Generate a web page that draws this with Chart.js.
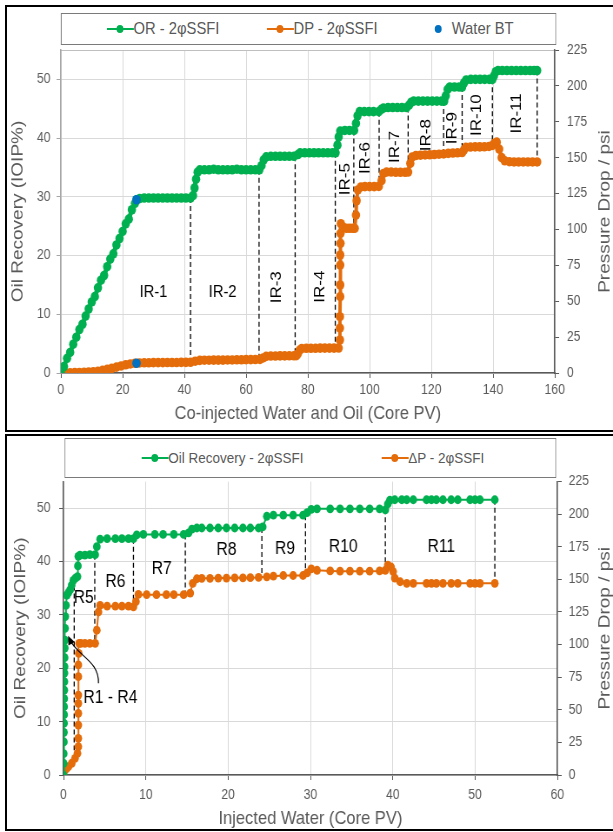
<!DOCTYPE html>
<html>
<head>
<meta charset="utf-8">
<script src="https://cdn.jsdelivr.net/npm/chart.js@4.4.0/dist/chart.umd.min.js"></script>
<style>
  html, body { margin: 0; padding: 0; background: #fff; }
  body { width: 613px; height: 832px; position: relative; overflow: hidden; font-family: 'Liberation Sans', Arial, sans-serif; }
  .frame { position: absolute; border: 2px solid #000; box-sizing: border-box; }
  #wrap { position: absolute; left: 0; top: 0; width: 705px; height: 832px; transform: scaleX(0.8695); transform-origin: 0 0; }
  #wrap canvas { position: absolute; left: 0; }
  .legend { position: absolute; border: 1.5px solid #7a7a7a; box-sizing: border-box; background: #fff; }
  .item { position: absolute; top: 0; bottom: 0; display: flex; align-items: center; color: #595959; white-space: nowrap; }
  .mk { position: relative; width: 31px; height: 10px; flex: none; }
  .mk::before { content: ''; position: absolute; left: 0; right: 0; top: 4px; height: 2px; background: var(--c); }
  .mk::after { content: ''; position: absolute; left: 11.5px; top: 1px; width: 8px; height: 8px; border-radius: 50%; background: var(--c); }
  .mk.dot::before { display: none; }
</style>
</head>
<body>
<div id="wrap">
  <canvas id="topChart" width="705" height="432" style="top:0"></canvas>
  <canvas id="bottomChart" width="705" height="396" style="top:436px"></canvas>

  <div class="legend" style="left:69.5px; top:12.7px; width:570px; height:32.3px; font-size:17px">
    <div class="item" style="left:52px"><span class="mk" style="--c:#00b050"></span>OR - 2φSSFI</div>
    <div class="item" style="left:236px"><span class="mk" style="--c:#e46c0a"></span>DP - 2φSSFI</div>
    <div class="item" style="left:418px"><span class="mk dot" style="--c:#0070c0"></span>Water BT</div>
  </div>

  <div class="legend" style="left:74px; top:438.3px; width:566px; height:40px; font-size:15.5px">
    <div class="item" style="left:87.5px"><span class="mk" style="--c:#00b050"></span>Oil Recovery - 2φSSFI</div>
    <div class="item" style="left:363.5px"><span class="mk" style="--c:#e46c0a"></span>ΔP - 2φSSFI</div>
  </div>
</div>
<div class="frame" style="left:5px; top:5px; width:640px; height:427px"></div>
<div class="frame" style="left:5px; top:434px; width:640px; height:397px"></div>

<script>
// ---- top chart: co-injection (IR-1 .. IR-11) ----
const topOR = [[0,0],[1,1.1],[2,2.5],[3,3.5],[4,4.9],[5,6.1],[6,7.4],[7,8.3],[8,9.7],[9,10.9],[10,12.1],[11,13.0],[12,14.5],[13,15.8],[14,16.6],[15,18.1],[16,19.4],[17,20.3],[18,21.8],[19,22.9],[20,24.1],[21,25.4],[22,26.2],[23,27.8],[24,28.9],[24.5,29.5],
  [25.5,29.7],[27,29.8],[28.5,29.8],[30,29.8],[31.5,29.8],[33,29.8],[34.5,29.8],[36,29.8],[37.5,29.8],[39,29.8],[40.5,29.8],[42,29.8],
  [42.8,30.2],[43.3,31.5],[43.8,33],[44.3,34.2],[45,34.6],
  [46.5,34.6],[48,34.6],[49.5,34.7],[51,34.6],[52.5,34.6],[54,34.6],[55.5,34.6],[57,34.7],[58.5,34.6],[60,34.6],[61.5,34.6],[63,34.6],[64.3,34.6],
  [65,35.3],[65.7,36.3],[66.5,36.8],
  [68,36.9],[69.5,36.9],[71,36.9],[72.5,36.9],[74,36.9],[75.5,36.9],
  [76.8,37.2],[77.5,37.5],
  [79,37.5],[80.5,37.5],[82,37.5],[83.5,37.5],[85,37.5],[86.5,37.5],[88,37.5],[89,37.5],
  [89.6,38.8],[90,40.2],[90.5,41.2],
  [92,41.3],[93.5,41.3],[95,41.3],
  [95.6,42.5],[96.1,43.8],[96.8,44.5],
  [98.3,44.5],[99.8,44.5],[101.3,44.5],[103,44.5],
  [103.8,44.9],[104.5,45.1],
  [106,45.2],[107.5,45.2],[109,45.2],[110.5,45.2],[112,45.2],
  [112.8,45.6],[113.5,46.1],[114.3,46.3],
  [115.8,46.3],[117.3,46.3],[118.8,46.3],[120.3,46.3],[121.8,46.3],[123.3,46.3],[124.2,46.3],
  [124.7,47.2],[125.3,48.3],[126,48.7],
  [127.5,48.7],[129,48.7],[130,48.7],
  [130.6,49.4],[131.3,49.9],
  [132.8,50],[134.3,50],[135.8,50],[137.3,50],[138.8,50],[139.8,50],
  [140.3,50.6],[140.9,51.3],[141.6,51.5],
  [143,51.5],[144.5,51.5],[146,51.5],[147.5,51.5],[149,51.5],[150.5,51.5],[152,51.5],[153.3,51.5],[154.3,51.5]];

const topDP = [[0,0],[1.5,0.1],[3,0.2],[4.5,0.3],[6,0.4],[7.5,0.5],[9,0.7],[10.5,0.9],[12,1.2],[13.5,1.8],[15,2.5],[16.5,3.3],[18,4.1],[19.5,4.9],[21,5.7],[22.5,6.3],[24,6.8],
  [25.5,7],[27,7.1],[28.5,7.1],[30,7.2],[31.5,7.2],[33,7.2],[34.5,7.3],[36,7.3],[37.5,7.3],[39,7.4],[40.5,7.4],[42,7.5],
  [43.5,8.2],[45,8.8],
  [46.5,8.9],[48,8.9],[49.5,9],[51,9],[52.5,9],[54,9.1],[55.5,9.1],[57,9.2],[58.5,9.2],[60,9.3],[61.5,9.3],[63,9.4],[64.5,9.5],
  [65.5,10.5],[66.5,11.6],
  [68,11.8],[69.5,11.8],[71,11.9],[72.5,11.9],[74,12],[75.5,12],[76.3,12.1],
  [76.8,13.5],[77.3,15.8],[78,17],
  [79.5,17.2],[81,17.2],[82.5,17.2],[84,17.3],[85.5,17.3],[87,17.3],[88.5,17.3],[90,17.4],
  [90.4,23],[90.4,31.3],[90.4,39.2],[90.5,53.2],[90.5,61.3],[90.5,75.2],[90.5,82.2],[90.6,90.3],[90.6,97.3],[90.7,104],
  [91.5,101.5],[92.5,100.8],[93.5,100.8],[94.5,100.8],[95.2,100.8],
  [95.6,110],[95.8,120],[96.2,127.5],[97.2,129.6],
  [98.5,129.8],[100,129.8],[101.5,129.8],[103,130],
  [103.9,134],[104.5,139],[105.5,140],
  [107,140],[108.5,139.8],[110,139.8],[111.5,139.8],[112.5,140],
  [113.2,146],[113.8,150.5],
  [115,151.5],[116.5,151.7],[118,151.9],[119.5,152],[121,152.2],[122.5,152.4],[124,152.6],
  [125.5,153],[127,153.2],[128.5,153.4],[130,153.6],
  [130.6,155.5],[131.2,157.2],
  [132.7,157.4],[134.2,157.5],[135.7,157.5],[137.2,157.6],[138.7,157.8],[139.8,158.5],
  [140.4,160],[141.2,160.8],[142,156],[142.8,150],[143.8,147.8],
  [145.3,147.2],[146.8,147],[148.3,147],[149.8,147],[151.3,147],[152.8,147],[154.3,147]];

// water breakthrough
const btPV = [24.5];
const btOR = [29.5];
const btDP = [6.8];

// region boundaries (dashed lines): from OR curve down to DP curve
const irX = [42, 64.2, 75.9, 88.9, 94.9, 103.1, 112.5, 124, 130, 139.8, 154.3];
const irTopOR = [29.8, 34.6, 36.9, 37.5, 41.3, 44.5, 45.2, 46.3, 48.7, 50, 51.5];
const irBotDP = [7.5, 9.5, 12.1, 17.4, 100.8, 130, 140, 152.6, 153.6, 158.5, 147];
const irNames = ['IR-1','IR-2','IR-3','IR-4','IR-5','IR-6','IR-7','IR-8','IR-9','IR-10','IR-11'];
const irLabelX = [30, 52.4, 70, 83.9, 92.2, 98.8, 108.2, 118.4, 126.9, 134.6, 147.6];
const irLabelY = [13.8, 13.8, 14.6, 14.7, 33, 36.6, 38.5, 40.5, 41.7, 43.9, 44.2];
const irLabelTurn = [0, 0, 1, 1, 1, 1, 1, 1, 1, 1, 1];

// ---- bottom chart: sequential injection (R1 .. R11) ----
const botOR = [[0,0],[0.02,2.2],[0.03,4],[0.05,6.2],[0.06,8],[0.07,9.7],[0.08,11.3],[0.08,12.8],[0.09,14.3],[0.1,15.9],[0.11,17.5],[0.12,19.1],[0.13,20.3],[0.14,22],[0.16,23.8],[0.17,25.3],[0.19,27.5],[0.22,29.7],[0.3,31.8],[0.41,33.7],[0.6,34.2],[0.8,34.7],[1,35.6],[1.2,36.5],[1.45,36.9],[1.7,37.2],
  [1.75,39.2],[1.8,41],[2,41.2],[2.6,41.2],[3.2,41.3],[3.85,41.3],[4.05,42.8],[4.45,44.2],[5.3,44.3],[6.3,44.3],[7.1,44.3],[7.9,44.3],[8.5,44.3],
  [8.9,45],[9.7,45.1],[11.1,45.1],[12.1,45.1],[13.4,45.1],[14.6,45.1],[15.2,45.4],[15.6,46.1],[16.2,46.3],[16.8,46.3],[17.8,46.3],[18.8,46.3],[19.8,46.3],[20.8,46.3],[21.8,46.3],[22.7,46.3],[23.7,46.3],
  [24.2,46.5],[24.7,48.5],[25.5,48.7],[26.7,48.7],[27.9,48.7],[29.1,48.7],[29.6,49.2],[30.1,49.8],[30.8,49.9],[32.4,49.9],[33.6,49.9],[34.8,49.9],[36,49.9],[37.2,49.9],[38.4,49.9],[39.1,49.7],
  [39.4,50.8],[39.65,51.5],[40.25,51.6],[41.1,51.6],[41.7,51.6],[42.5,51.6],[44.1,51.6],[44.7,51.6],[45.3,51.6],[46.1,51.6],[47.1,51.6],[47.9,51.6],[49.4,51.6],[50,51.6],[50.6,51.6],[52.4,51.6]];

const botDP = [[0,0],[0.2,3.8],[0.4,5.2],[0.6,6.4],[1,9],[1.4,12.8],[1.7,16.6],[1.8,21.7],[1.8,28.1],[1.8,38.3],[1.8,47.3],[1.8,55],[1.8,61.3],[1.8,75.4],[1.8,84.4],[1.85,93.3],[1.9,101],
  [2.1,101],[2.6,101],[3.2,101],[3.85,101],[4.05,111],[4.25,125],[4.45,130],[5.3,129.5],[6.3,129.5],[7.1,129.5],[7.9,129.5],[8.5,129],
  [8.8,133],[9.1,138.5],[10.1,138.3],[11.3,138.3],[12.5,138.3],[13.4,138.3],[14.6,138.3],[15.4,139.5],[15.7,147],[16.2,150.5],[16.8,150.8],[17.8,150.8],[18.8,151],[19.8,151],[20.8,151.2],[21.8,151.2],[22.7,151.3],[23.7,151.5],
  [24.7,152],[25.5,152.5],[26.7,153],[27.9,153],[29.1,153],[29.6,155],[30.1,158],[30.8,157],[32.4,156.5],[33.6,156.3],[34.8,156.3],[36,156.3],[37.2,156.3],[38.4,156.5],[39.1,157],
  [39.4,161],[39.8,159.5],[40.05,156],[40.25,151],[40.9,148.2],[41.7,147],[42.5,147],[44.1,147],[44.7,147],[45.3,147],[46.1,147],[47.1,147],[47.9,147],[49.4,147],[50,147],[50.6,147],[52.4,147]];

const rX = [1.3, 3.8, 8.5, 14.8, 24.1, 29.4, 39.1, 52.4];
const rTopOR = [37, 41.3, 44.3, 45.1, 46.3, 48.7, 49.8, 51.6];
const rBotDP = [19, 101, 129.5, 138.3, 151.5, 153, 157, 147];
const rNames = ['R5', 'R6', 'R7', 'R8', 'R9', 'R10', 'R11', 'R1 - R4'];
const rLabelX = [2.45, 6.3, 11.95, 19.8, 26.9, 34, 45.9, 5.7];
const rLabelY = [33.1, 36.2, 38.6, 42.2, 42.3, 42.8, 42.8, 14.4];
// curved pointer from the "R1 - R4" label to the early points (PV, OR)
const rArrow = [[4.25, 17.2], [4.35, 21.5], [1.6, 22.3], [0.7, 25.6]];

const GREEN = '#00b050', ORANGE = '#e46c0a', BLUE = '#0070c0';
const GRID = '#d9d9d9', AXIS = '#595959', TEXT = '#595959';
Chart.defaults.font.family = "'Liberation Sans', Arial, sans-serif";

const toXY = arr => arr.map(p => ({ x: p[0], y: p[1] }));

// dashed region lines, region labels, arrow and the right axis title
function notes(cfg) {
  return {
    id: 'notes',
    beforeDatasetsDraw(chart) {
      const { ctx, scales: { x, y, y1 } } = chart;
      ctx.save();
      ctx.strokeStyle = '#000';
      ctx.lineWidth = 1.3;
      ctx.setLineDash([5, 3]);
      cfg.lineX.forEach((v, i) => {
        const px = x.getPixelForValue(v);
        ctx.beginPath();
        ctx.moveTo(px, y.getPixelForValue(cfg.lineTop[i]));
        ctx.lineTo(px, y1.getPixelForValue(cfg.lineBottom[i]));
        ctx.stroke();
      });
      ctx.restore();
    },
    afterDatasetsDraw(chart) {
      const { ctx, chartArea, scales: { x, y } } = chart;
      ctx.save();
      ctx.fillStyle = '#000';
      ctx.font = cfg.labelFont;
      ctx.textAlign = 'center';
      ctx.textBaseline = 'middle';
      cfg.labels.forEach((t, i) => {
        ctx.save();
        ctx.translate(x.getPixelForValue(cfg.labelX[i]), y.getPixelForValue(cfg.labelY[i]));
        if (cfg.labelTurn && cfg.labelTurn[i]) ctx.rotate(-Math.PI / 2);
        ctx.fillText(t, 0, 0);
        ctx.restore();
      });

      if (cfg.arrow) {
        const p = cfg.arrow.map(a => [x.getPixelForValue(a[0]), y.getPixelForValue(a[1])]);
        ctx.strokeStyle = '#000';
        ctx.lineWidth = 1.2;
        ctx.beginPath();
        ctx.moveTo(p[0][0], p[0][1]);
        ctx.bezierCurveTo(p[1][0], p[1][1], p[2][0], p[2][1], p[3][0], p[3][1]);
        ctx.stroke();
        const ang = Math.atan2(p[3][1] - p[2][1], p[3][0] - p[2][0]);
        const len = 9, half = 4;
        const tipX = p[3][0] + Math.cos(ang) * 3, tipY = p[3][1] + Math.sin(ang) * 3;
        ctx.beginPath();
        ctx.moveTo(tipX, tipY);
        ctx.lineTo(tipX - len * Math.cos(ang) + half * Math.sin(ang), tipY - len * Math.sin(ang) - half * Math.cos(ang));
        ctx.lineTo(tipX - len * Math.cos(ang) - half * Math.sin(ang), tipY - len * Math.sin(ang) + half * Math.cos(ang));
        ctx.closePath();
        ctx.fill();
      }

      ctx.fillStyle = TEXT;
      ctx.font = "19px 'Liberation Sans', Arial, sans-serif";
      ctx.translate(chart.width - cfg.rightGap, (chartArea.top + chartArea.bottom) / 2);
      ctx.rotate(-Math.PI / 2);
      ctx.fillText('Pressure Drop / psi', 0, 0);
      ctx.restore();
    }
  };
}

function series(label, data, color, axis, radius, width) {
  return {
    label: label, data: toXY(data), yAxisID: axis, showLine: true,
    borderColor: color, backgroundColor: color, borderWidth: width,
    borderJoinStyle: 'round', borderCapStyle: 'round',
    pointRadius: radius, pointBorderWidth: 0, pointBackgroundColor: color
  };
}

function buildChart(id, o) {
  return new Chart(document.getElementById(id), {
    type: 'scatter',
    data: { datasets: o.datasets },
    options: {
      responsive: false,
      animation: false,
      devicePixelRatio: 1,
      layout: { padding: { top: o.top, left: 0, right: 0, bottom: 0 } },
      plugins: { legend: { display: false }, tooltip: { enabled: false } },
      scales: {
        x: {
          type: 'linear', min: 0, max: o.xMax,
          afterFit: s => { s.height = o.xH; },
          ticks: { stepSize: o.xStep, color: TEXT, font: { size: 14 }, padding: o.xPad, maxRotation: 0 },
          grid: { color: GRID, tickColor: AXIS, tickLength: 5 },
          border: { color: AXIS, width: 1.5 },
          title: { display: true, text: o.xTitle, color: TEXT, font: { size: 19 }, padding: { top: 0, bottom: o.xTitlePad } }
        },
        y: {
          type: 'linear', min: 0, max: 55,
          afterFit: s => { s.width = o.yW; },
          ticks: { stepSize: 10, includeBounds: false, color: TEXT, font: { size: 14 }, padding: o.yPad },
          grid: { color: GRID, tickColor: o.yBorder, tickLength: 5 },
          border: { color: o.yBorder, width: 1.5 },
          title: { display: true, text: 'Oil Recovery (IOIP%)', color: TEXT, font: { size: 19 }, padding: { top: o.yTitlePad, bottom: 0 } }
        },
        y1: {
          type: 'linear', position: 'right', min: 0, max: 225,
          afterFit: s => { s.width = o.y1W; },
          ticks: { stepSize: 25, color: TEXT, font: { size: 14 }, padding: o.y1Pad },
          grid: { color: c => c.tick && c.tick.value === 225 ? o.topLine : 'rgba(0,0,0,0)', tickColor: AXIS, tickLength: 5 },
          border: { color: AXIS, width: 1.5 }
        }
      }
    },
    plugins: [notes(o.notes)]
  });
}

buildChart('topChart', {
  top: 50, xH: 59, yW: 70, y1W: 67, xMax: 160, xStep: 20,
  xPad: 4, yPad: 7, y1Pad: 9, xTitlePad: 7, yTitlePad: 9.6, yBorder: '#a6a6a6', topLine: '#bfbfbf',
  xTitle: 'Co-injected Water and Oil (Core PV)',
  datasets: [
    { label: 'Water BT', data: btPV.map((v, i) => ({ x: v, y: btOR[i] })), yAxisID: 'y', showLine: false, pointRadius: 4.8, pointBorderWidth: 0, pointBackgroundColor: BLUE, backgroundColor: BLUE },
    { label: 'Water BT (DP)', data: btPV.map((v, i) => ({ x: v, y: btDP[i] })), yAxisID: 'y1', showLine: false, pointRadius: 4.8, pointBorderWidth: 0, pointBackgroundColor: BLUE, backgroundColor: BLUE },
    series('OR - 2φSSFI', topOR, GREEN, 'y', 4.8, 5),
    series('DP - 2φSSFI', topDP, ORANGE, 'y1', 4.8, 4)
  ],
  notes: {
    lineX: irX, lineTop: irTopOR, lineBottom: irBotDP,
    labels: irNames, labelX: irLabelX, labelY: irLabelY, labelTurn: irLabelTurn,
    labelFont: "17px 'Liberation Sans', Arial, sans-serif",
    rightGap: 9.6
  }
});

buildChart('bottomChart', {
  top: 45.6, xH: 57, yW: 73, y1W: 64, xMax: 60, xStep: 10,
  xPad: 7, yPad: 10, y1Pad: 8, xTitlePad: 2, yTitlePad: 12.4, yBorder: AXIS, topLine: 'rgba(0,0,0,0)',
  xTitle: 'Injected Water (Core PV)',
  datasets: [
    series('Oil Recovery - 2φSSFI', botOR, GREEN, 'y', 4.4, 2),
    series('ΔP - 2φSSFI', botDP, ORANGE, 'y1', 4.4, 2)
  ],
  notes: {
    lineX: rX, lineTop: rTopOR, lineBottom: rBotDP,
    labels: rNames, labelX: rLabelX, labelY: rLabelY,
    labelFont: "18px 'Liberation Sans', Arial, sans-serif",
    arrow: rArrow,
    rightGap: 9.6
  }
});
</script>
</body>
</html>
